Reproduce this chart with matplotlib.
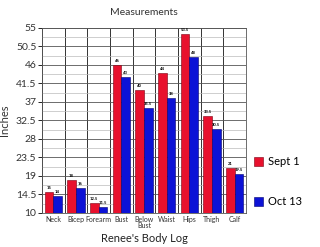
import matplotlib.pyplot as plt
import numpy as np

categories = ["Neck", "Bicep", "Forearm", "Bust", "Below\nBust", "Waist", "Hips", "Thigh", "Calf"]
sept1 = [15, 18, 12.5, 46, 40, 44, 53.5, 33.5, 21]
oct13 = [14, 16, 11.5, 43, 35.5, 38, 48, 30.5, 19.5]
yticks = [10, 14.5, 19, 23.5, 28, 32.5, 37, 41.5, 46, 50.5, 55]

red = "#e8112d"
blue = "#0c12d6"

plt.rcParams['font.family'] = ['Lato', 'DejaVu Sans']

fig = plt.figure(figsize=(3.2, 2.47), dpi=100)
ax = fig.add_axes([0.131, 0.138, 0.638, 0.749])

x = np.arange(len(categories))
w = 0.38
b1 = ax.bar(x - w / 2, np.array(sept1) - 10, w, bottom=10, color=red, edgecolor="#7a0010", linewidth=0.4, label="Sept 1", zorder=3)
b2 = ax.bar(x + w / 2, np.array(oct13) - 10, w, bottom=10, color=blue, edgecolor="#000070", linewidth=0.4, label="Oct 13", zorder=3)

for xi, v in zip(x, sept1):
    ax.text(xi - w / 2, v + 0.5, f"{v:g}", ha="center", va="bottom", fontsize=3, fontweight="bold", zorder=4)
for xi, v in zip(x, oct13):
    ax.text(xi + w / 2, v + 0.5, f"{v:g}", ha="center", va="bottom", fontsize=3, fontweight="bold", zorder=4)

ax.set_xlim(-0.5, len(categories) - 0.5)
ax.set_ylim(10, 55)
ax.set_yticks(yticks)
ax.set_yticklabels([f"{t:g}" for t in yticks], fontsize=7.5, color="#333333")
ax.set_yticks([t + 2.25 for t in yticks[:-1]], minor=True)
ax.set_xticks(x)
ax.set_xticklabels(categories, fontsize=5, color="#333333", linespacing=0.9)
ax.set_xticks(np.arange(len(categories) + 1) - 0.5, minor=True)
ax.tick_params(axis="x", which="both", length=0, pad=2)
ax.tick_params(axis="y", which="major", length=3, width=0.6, pad=1)
ax.tick_params(axis="y", which="minor", length=0)

ax.grid(axis="y", which="major", color="#555555", linewidth=0.6, zorder=0)
ax.grid(axis="y", which="minor", color="#bbbbbb", linewidth=0.5, zorder=0)
ax.grid(axis="x", which="minor", color="#333333", linewidth=0.7, zorder=0)
ax.grid(axis="x", which="major", visible=False)
for s in ax.spines.values():
    s.set_color("#555555")
    s.set_linewidth(0.6)

ax.set_title("Measurements", fontsize=7.5, color="#333333", pad=9)
ax.set_xlabel("Renee's Body Log", fontsize=8, color="#222222", labelpad=3)
ax.set_ylabel("Inches", fontsize=8, color="#333333")
ax.yaxis.set_label_coords(-0.155, 0.5)

fig.legend(handles=[b1, b2], loc="upper left", bbox_to_anchor=(0.78, 0.385), frameon=False,
           fontsize=8, handlelength=0.8, handleheight=0.8, handletextpad=0.5, labelspacing=2.6,
           borderaxespad=0)

fig.savefig("out.png", dpi=100)
